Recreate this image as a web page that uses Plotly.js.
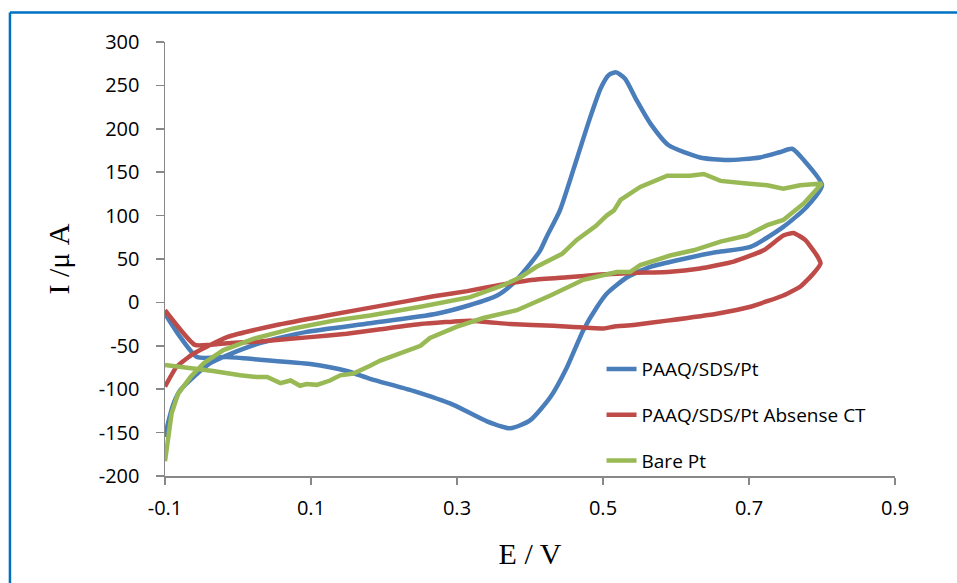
<!DOCTYPE html>
<html>
<head>
<meta charset="utf-8">
<script src="https://cdn.plot.ly/plotly-3.0.1.min.js"></script>
<style>html,body{margin:0;padding:0;background:#fff;}#chart{width:957px;height:583px;}</style>
</head>
<body>
<div id="chart"></div>
<script>
// PAAQ/SDS/Pt
const blueX = [-0.1,-0.095,-0.088,-0.079,-0.061,-0.038,-0.015,0.030,0.094,0.181,0.272,0.318,0.355,0.377,0.396,0.414,0.423,0.441,0.464,0.482,0.497,0.508,0.518,0.530,0.546,0.565,0.590,0.633,0.670,0.715,0.742,0.759,0.775,0.800,
  0.779,0.747,0.702,0.656,0.610,0.565,0.533,0.505,0.492,0.473,0.451,0.428,0.400,0.373,0.341,0.295,0.240,0.181,0.149,0.099,0.030,-0.015,-0.056,-0.079,-0.1];
const blueY = [-155,-136,-116,-101,-86,-70,-61,-47,-34,-24,-13,-3,8,22,40,60,76,106,165,212,247,262,265,258,233,206,181,167,164,167,173,177,164,135,
  110,87,64,58,50,41,29,10,-5,-32,-74,-109,-136,-145,-137,-118,-102,-88,-79,-71,-66,-63,-63,-40,-13];
// PAAQ/SDS/Pt Absense CT
const redX = [-0.1,-0.084,-0.061,-0.015,0.053,0.122,0.195,0.268,0.314,0.359,0.405,0.451,0.496,0.542,0.588,0.633,0.679,0.720,0.747,0.761,0.777,0.793,0.798,
  0.788,0.770,0.747,0.702,0.656,0.588,0.542,0.514,0.501,0.432,0.373,0.318,0.250,0.195,0.149,0.099,0.030,-0.015,-0.059,-0.1];
const redY = [-97,-74,-59,-40,-26,-15,-4,7,13,20,26,29,32,34,35,39,47,60,77,80,72,54,45,
  33,18,8,-5,-13,-21,-26,-28,-30,-27,-25,-21,-25,-31,-36,-40,-45,-47,-49,-9];
// Bare Pt
const greenX = [-0.1,-0.095,-0.091,-0.082,-0.065,-0.047,-0.020,0.021,0.076,0.131,0.181,0.250,0.318,0.364,0.387,0.409,0.444,0.464,0.490,0.505,0.515,0.524,0.551,0.588,0.619,0.638,0.661,0.697,0.725,0.747,0.770,0.800,
  0.775,0.747,0.725,0.697,0.661,0.624,0.592,0.551,0.537,0.519,0.473,0.428,0.382,0.336,0.300,0.263,0.250,0.208,0.195,0.181,0.158,0.140,0.126,0.108,0.094,0.085,0.072,0.058,0.040,0.026,0.003,-0.034,-0.070,-0.1];
const greenY = [-183,-155,-128,-105,-86,-70,-55,-42,-30,-21,-15,-5,6,20,29,41,56,72,88,100,106,118,133,146,146,148,140,137,135,131,135,137,
  114,95,89,77,70,60,54,43,35,35,26,8,-9,-18,-28,-41,-50,-63,-67,-73,-82,-84,-90,-95,-94,-96,-90,-93,-86,-86,-84,-79,-75,-72];

const seriesNames = ['PAAQ/SDS/Pt','PAAQ/SDS/Pt Absense CT','Bare Pt'];
const xTicks = [-0.1,0.1,0.3,0.5,0.7,0.9];
const xTickText = ['-0.1','0.1','0.3','0.5','0.7','0.9'];
const yTicks = [-200,-150,-100,-50,0,50,100,150,200,250,300];
const yTickText = ['-200','-150','-100','-50','0','50','100','150','200','250','300'];

const traces = [
  {x: blueX, y: blueY, name: seriesNames[0], legendgroup:'a', mode:'lines', line:{color:'#4A7EBB', width:4.5, shape:'spline', smoothing:0.6}},
  {x: redX, y: redY, name: seriesNames[1], legendgroup:'b', mode:'lines', line:{color:'#BE4B48', width:4.5, shape:'spline', smoothing:0.4}},
  {x: greenX, y: greenY, name: seriesNames[2], legendgroup:'c', mode:'lines', line:{color:'#98B954', width:4.5}}
];

const layout = {
  width: 957, height: 583,
  margin: {l:165, r:62, t:42, b:107},
  paper_bgcolor:'#fff', plot_bgcolor:'#fff',
  font: {family:'Open Sans, sans-serif', size:20, color:'#000'},
  showlegend: true,
  legend: {x:0.598, xanchor:'left', y:0.29, yanchor:'top', tracegroupgap:18, font:{size:19, family:'Open Sans, sans-serif'}, bgcolor:'rgba(0,0,0,0)'},
  xaxis: {range:[-0.1,0.9], tickvals:xTicks, ticktext:xTickText, showline:true, linecolor:'#888', linewidth:1.5,
    ticks:'outside', ticklen:7, tickcolor:'#888', tickwidth:1.5, showgrid:false, zeroline:false,
    tickfont:{size:20}, ticklabelstandoff:6,
    title:{text:'E / V', font:{family:'Liberation Serif, Times New Roman, serif', size:30}, standoff:23}},
  yaxis: {range:[-200,300], tickvals:yTicks, ticktext:yTickText, showline:true, linecolor:'#888', linewidth:1.5,
    ticks:'outside', ticklen:8, tickcolor:'#888', tickwidth:1.5, showgrid:false, zeroline:false,
    tickfont:{size:20}, ticklabelstandoff:12,
    title:{text:'I /μ A', font:{family:'Liberation Serif, Times New Roman, serif', size:30}, standoff:20}},
  shapes: [
    {type:'line', xref:'paper', yref:'paper', x0:-0.2124, x1:-0.2124, y0:1.068, y1:-0.3, line:{color:'#0070C0', width:2.5}},
    {type:'line', xref:'paper', yref:'paper', x0:-0.2124, x1:1.2, y0:1.068, y1:1.068, line:{color:'#0070C0', width:2.5}}
  ]
};

Plotly.newPlot('chart', traces, layout, {displayModeBar:false, staticPlot:true});
</script>
</body>
</html>
